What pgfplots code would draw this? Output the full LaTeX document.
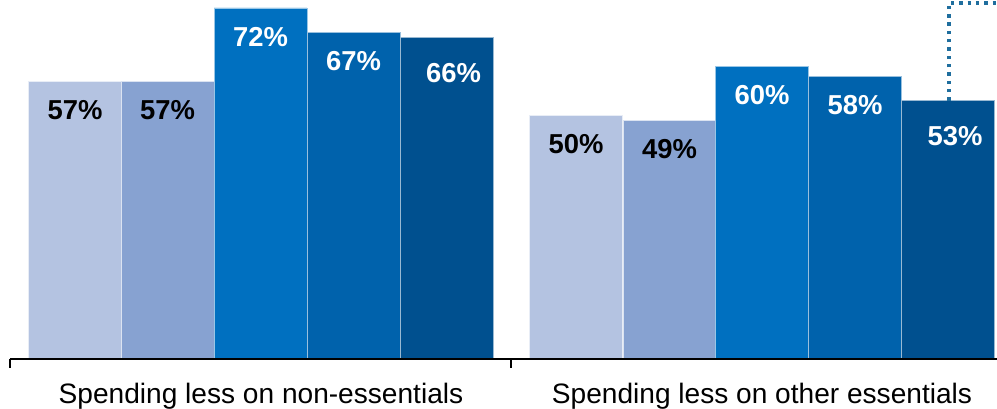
\documentclass[border=0pt]{standalone}
\usepackage{fontspec}
\setmainfont{Liberation Sans}
\usepackage{pgfplots}
\pgfplotsset{compat=1.18}

\definecolor{barA}{HTML}{B4C3E1}
\definecolor{barB}{HTML}{87A2D1}
\definecolor{barC}{HTML}{0070C0}
\definecolor{barD}{HTML}{0062AC}
\definecolor{barE}{HTML}{00508F}
\definecolor{callout}{HTML}{1F6E9E}
\definecolor{baseline}{HTML}{8C8C8C}

\begin{document}
\begin{tikzpicture}
\begin{axis}[
  at={(0,50bp)}, anchor=south west,
  width=997bp, height=359bp, scale only axis,
  xmin=0, xmax=997, ymin=0, ymax=73.61,
  hide axis, clip=false,
  bar width=92.8,
  point meta=y,
  /pgf/number format/assume math mode=true,
  nodes near coords={\pgfmathprintnumber[fixed,precision=0]{\pgfplotspointmeta}\%},
  every node near coord/.append style={
    font=\fontsize{27.5}{30}\selectfont\bfseries,
    anchor=center, yshift=-29bp},
]
% one series per shade; first bar in each group is the left cluster
\addplot[ybar, bar shift=0pt, fill=barA, draw=white!70!barA, line width=0.6bp,
  every node near coord/.append style={text=black}]
  coordinates {(75,57) (576,50)};
\addplot[ybar, bar shift=0pt, fill=barB, draw=white!70!barB, line width=0.6bp,
  every node near coord/.append style={text=black}]
  coordinates {(167.5,57) (669.5,49)};
\addplot[ybar, bar shift=0pt, fill=barC, draw=white!60!barC, line width=0.6bp,
  every node near coord/.append style={text=white}]
  coordinates {(260.5,72) (762,60)};
\addplot[ybar, bar shift=0pt, fill=barD, draw=white!60!barD, line width=0.6bp,
  every node near coord/.append style={text=white}]
  coordinates {(353.5,67) (855,58)};
\addplot[ybar, bar shift=0pt, fill=barE, draw=white!60!barE, line width=0.6bp,
  every node near coord/.append style={text=white, xshift=7bp, yshift=-7bp}]
  coordinates {(446.5,66) (948,53)};

% baseline with group separators
\draw[baseline, line width=1.5bp] (axis cs:10,0) -- (axis cs:997,0);
\draw[baseline, line width=1.5bp] (axis cs:10,0) -- ++(0,-9bp);
\draw[baseline, line width=1.5bp] (axis cs:511,0) -- ++(0,-9bp);

% category labels
\node[anchor=base, font=\fontsize{28.2}{31}\selectfont, inner sep=0pt]
  at ([yshift=-44bp]axis cs:261,0) {Spending less on non-essentials};
\node[anchor=base, font=\fontsize{28.2}{31}\selectfont, inner sep=0pt]
  at ([yshift=-44bp]axis cs:762,0) {Spending less on other essentials};

% dotted callout leaving the last bar
\draw[callout, line width=3.4bp, dash pattern=on 3.4bp off 4.9bp]
  (axis cs:949,53) -- (axis cs:949,73.0) -- (axis cs:997,73.0);
\end{axis}
\pgfresetboundingbox
\path (0,0) rectangle (997bp,409bp);
\end{tikzpicture}
\end{document}
